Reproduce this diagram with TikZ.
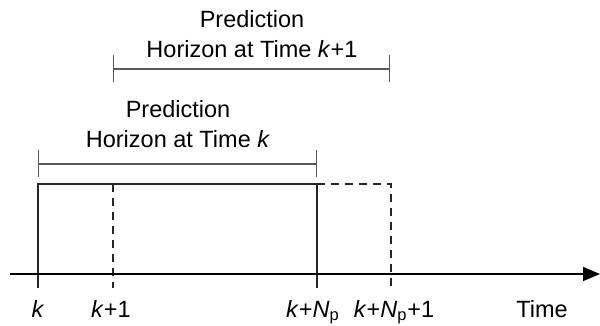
\documentclass[tikz,border=0pt]{standalone}
\usepackage{fontspec}
\setmainfont{Liberation Sans}
\usetikzlibrary{arrows.meta}

\begin{document}
\begin{tikzpicture}[
    x=0.5pt, y=-0.5pt,
    font=\fontsize{11.75}{15}\selectfont,
    lbl/.style={inner sep=0pt, anchor=base},
    title/.style={inner sep=0pt, anchor=south, align=center},
    horizon/.style={line width=0.7pt, black!65, {Bar[width=13.5pt]}-{Bar[width=13.5pt]}},
    solidline/.style={line width=0.7pt, black!85},
    dashline/.style={line width=0.7pt, black!85, dash pattern=on 4pt off 3pt},
    axis/.style={line width=0.7pt, -{Triangle[length=8.5pt, width=7pt]}}
  ]
  \useasboundingbox (0,0) rectangle (600,326);

  % Horizon brackets
  \coordinate (hk1L) at (113,69);
  \coordinate (hk1R) at (390,69);
  \coordinate (hkL) at (38,164);
  \coordinate (hkR) at (317,164);
  \draw[horizon] (hk1L) -- (hk1R);
  \draw[horizon] (hkL) -- (hkR);

  \node[title] (tk1) at (252,58) {Prediction\\Horizon at Time \textit{k}+1};
  \node[title] (tk) at (178,148) {Prediction\\Horizon at Time \textit{k}};

  % Control window (solid) and shifted window (dashed)
  \coordinate (kT) at (38,184);
  \coordinate (kB) at (38,288);
  \coordinate (k1T) at (113,184);
  \coordinate (k1B) at (113,288);
  \coordinate (kNT) at (317,184);
  \coordinate (kNB) at (317,288);
  \coordinate (kN1T) at (391,184);
  \coordinate (kN1B) at (391,288);
  \draw[solidline] (kB) -- (kT) -- (kNT) -- (kNB);
  \draw[dashline] (k1T) -- (k1B);
  \draw[dashline] (kNT) -- (kN1T) -- (kN1B);

  % Time axis
  \coordinate (ax0) at (10,274);
  \coordinate (ax1) at (600,274);
  \draw[axis] (ax0) -- (ax1);

  \node[lbl] (lk) at (38,317) {\textit{k}};
  \node[lbl] (lk1) at (111,317) {\textit{k}+1};
  \node[lbl] (lkN) at (313,317) {\textit{k}+\textit{N}\textsubscript{p}};
  \node[lbl] (lkN1) at (394,317) {\textit{k}+\textit{N}\textsubscript{p}+1};
  \node[lbl] (ltime) at (542,317) {Time};

\end{tikzpicture}
\end{document}
